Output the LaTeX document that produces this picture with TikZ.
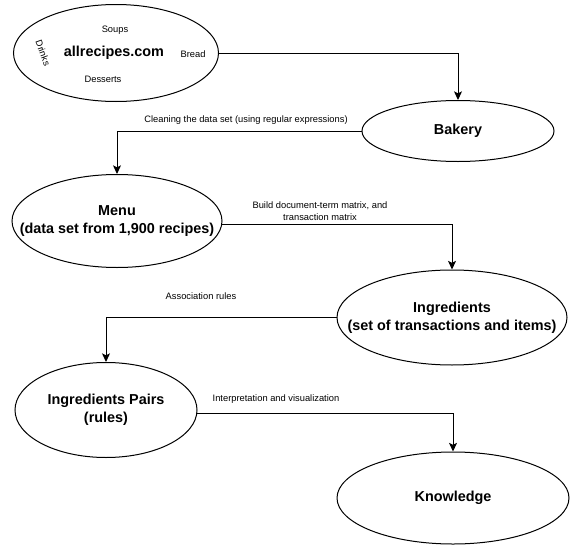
\documentclass[tikz,border=0pt]{standalone}
\usepackage{fontspec}
\setmainfont{Liberation Sans}
\usetikzlibrary{shapes.geometric,arrows.meta}
\begin{document}
\begin{tikzpicture}[x=0.75pt,y=-0.75pt,
  ell/.style={ellipse,draw,line width=0.75pt,inner sep=0pt},
  big/.style={font=\fontsize{10.8}{13.5}\selectfont\bfseries,align=center,inner sep=0pt},
  small/.style={font=\fontsize{7}{8.5}\selectfont,align=center,inner sep=0pt},
  conn/.style={line width=0.75pt,-{Stealth[length=6.5pt,width=6pt,inset=1.5pt]}}]
\useasboundingbox (0,0) rectangle (571,546);
% ellipses
\node[ell,minimum width=153.75pt,minimum height=72.75pt] (src) at (116,53) {};
\node[ell,minimum width=144pt,minimum height=45.75pt] (bakery) at (458,131) {};
\node[ell,minimum width=157.5pt,minimum height=69.75pt] (menu) at (117,221) {};
\node[ell,minimum width=172.5pt,minimum height=71.25pt] (ingr) at (452,317.5) {};
\node[ell,minimum width=136.5pt,minimum height=71.25pt] (pairs) at (106,410) {};
\node[ell,minimum width=174pt,minimum height=69pt] (know) at (453,498) {};
% texts in ellipses
\node[big] (srct) at (114,53) {allrecipes.com};
\node[small] (soups) at (115,30) {Soups};
\node[small] (bread) at (193,54) {Bread};
\node[small] (desserts) at (103,79) {Desserts};
\node[small,rotate=-70] (drinks) at (43,53) {Drinks};
\node[big] (bakeryt) at (bakery.center) {Bakery};
\node[big] (menut) at (menu.center) {Menu\\(data set from 1,900 recipes)};
\node[big] (ingrt) at (ingr.center) {Ingredients\\(set of transactions and items)};
\node[big] (pairst) at (pairs.center) {Ingredients Pairs\\(rules)};
\node[big] (knowt) at (know.center) {Knowledge};
% connectors
\draw[conn] (src.east) -| (bakery.north);
\draw[conn] (bakery.west) -| (menu.north);
\draw[conn] (menu.-2) -| (ingr.north);
\draw[conn] (ingr.west) -| (pairs.north);
\draw[conn] (pairs.-2) -| (know.north);
% connector labels
\node[small] (l1) at (246,120) {Cleaning the data set (using regular expressions)};
\node[small] (l2) at (320,211) {Build document-term matrix, and\\transaction matrix};
\node[small] (l3) at (201,296) {Association rules};
\node[small] (l4) at (276,399) {Interpretation and visualization};
\end{tikzpicture}
\end{document}
